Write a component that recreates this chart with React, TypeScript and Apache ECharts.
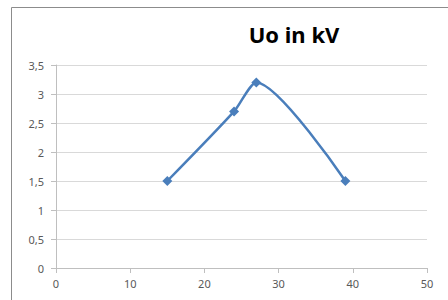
import React, { useEffect, useRef } from "react";
import * as echarts from "echarts";

const titleText = "Uo in kV";
const xValues = [15, 24, 27, 39];
const yValues = [1.5, 2.7, 3.2, 1.5];

export default function App() {
  const ref = useRef<HTMLDivElement>(null);
  useEffect(() => {
    if (!ref.current) return;
    const chart = echarts.init(ref.current, undefined, { renderer: "svg" });
    const labelStyle = { color: "#595959", fontFamily: "Noto Sans", fontSize: 11 };
    chart.setOption({
      animation: false,
      backgroundColor: "#ffffff",
      title: {
        text: titleText,
        left: 289,
        top: 18,
        textAlign: "center",
        textStyle: { fontFamily: "Noto Sans", fontWeight: "bold", fontSize: 22, color: "#000000" },
      },
      graphic: [
        {
          type: "rect",
          shape: { x: 11.5, y: 7.5, width: 460, height: 320 },
          style: { fill: "none", stroke: "#8c8c8c", lineWidth: 1 },
          silent: true,
        },
      ],
      grid: { left: 56, right: 21, top: 65, bottom: 32 },
      xAxis: {
        type: "value",
        min: 0,
        max: 50,
        interval: 10,
        axisLine: { show: true, lineStyle: { color: "#bfbfbf" } },
        axisTick: { show: true, length: 5, inside: false, lineStyle: { color: "#bfbfbf" } },
        axisLabel: { ...labelStyle, margin: 10 },
        splitLine: { show: false },
      },
      yAxis: {
        type: "value",
        min: 0,
        max: 3.5,
        interval: 0.5,
        axisLine: { show: true, lineStyle: { color: "#bfbfbf" } },
        axisTick: { show: true, length: 5, lineStyle: { color: "#bfbfbf" } },
        axisLabel: {
          ...labelStyle,
          margin: 12,
          formatter: (v: number) => String(v).replace(".", ","),
        },
        splitLine: { show: true, lineStyle: { color: "#d9d9d9" } },
      },
      series: [
        {
          type: "line",
          data: xValues.map((x, i) => [x, yValues[i]]),
          smooth: 0.25,
          symbol: "diamond",
          symbolSize: 10,
          lineStyle: { color: "#4a7ebb", width: 2.5 },
          itemStyle: { color: "#4a7ebb" },
        },
      ],
    });
    return () => chart.dispose();
  }, []);
  return <div ref={ref} style={{ width: 448, height: 300, position: "absolute", left: 0, top: 0 }} />;
}
